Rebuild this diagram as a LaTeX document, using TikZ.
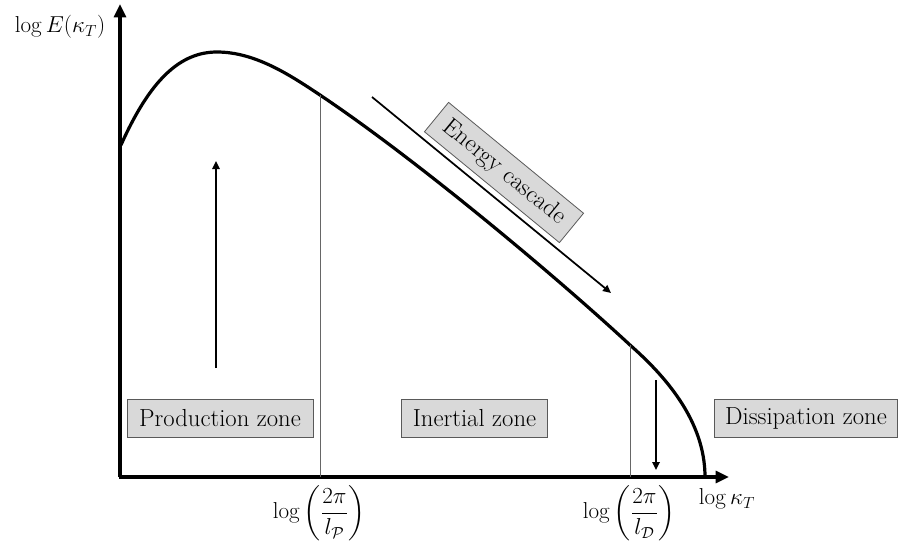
\documentclass[tikz,border=0pt]{standalone}
\usepackage{amsmath}
\usetikzlibrary{arrows.meta}
\begin{document}
\begin{tikzpicture}[x=0.75pt,y=-0.75pt,
  axisline/.style={line width=2.3pt,-{Triangle[length=10pt,width=9pt]}},
  thinline/.style={line width=0.6pt,draw=black!60},
  smallarrow/.style={line width=1.5pt,-{Triangle[length=6pt,width=5.5pt]}},
  zonebox/.style={draw=black!65,line width=0.6pt,fill=black!15,minimum height=28.5pt,inner sep=0pt,font=\fontsize{18.5}{21}\selectfont},
  lbl/.style={inner sep=0pt,font=\fontsize{18}{21}\selectfont}]
\useasboundingbox (0,0) rectangle (898,546);
% axes
\coordinate (O) at (120,477);
\coordinate (ytop) at (120,4);
\coordinate (xend) at (729,477);
\draw[axisline] (O) -- (ytop);
\draw[axisline] (118.9,477) -- (xend);
% curve
\coordinate (c0) at (121,145);
\coordinate (c1) at (217,52);
\coordinate (c2) at (320,95);
\coordinate (c3) at (630,345);
\coordinate (c4) at (705,477);
\draw[line width=2.4pt,line join=round]
  (c0) .. controls (150,80) and (180,52) .. (c1)
       .. controls (255,52) and (290,75) .. (c2)
       .. controls (420,162) and (560,280) .. (c3)
       .. controls (664,375) and (705,420) .. (c4);
% thin verticals
\coordinate (p1b) at (320,477);
\coordinate (p2b) at (630,477);
\draw[thinline] (c2) -- (p1b);
\draw[thinline] (c3) -- (p2b);
% arrows
\coordinate (ua) at (216,368);
\coordinate (ub) at (216,161);
\draw[smallarrow] (ua) -- (ub);
\coordinate (da) at (656,380);
\coordinate (db) at (656,470);
\draw[smallarrow] (da) -- (db);
\coordinate (ca) at (372,97);
\coordinate (cb) at (611,293);
\draw[smallarrow,line width=1.3pt] (ca) -- (cb);
% boxes
\node[zonebox,minimum width=139.5pt] (prod) at (220,418) {Production zone};
\node[zonebox,minimum width=110pt] (inert) at (474.5,418) {Inertial zone};
\node[zonebox,minimum width=137pt] (diss) at (806,418) {Dissipation zone};
\node[zonebox,minimum width=131pt,rotate=-39.4] (casc) at (504,172.5) {Energy cascade};
% labels
\node[lbl] (ylab) at (60,27) {$\log E(\kappa_T)$};
\node[lbl] (xlab) at (727,499) {$\log \kappa_T$};
\node[lbl] (lp) at (319,513) {$\log\left(\dfrac{2\pi}{l_{\mathcal{P}}}\right)$};
\node[lbl] (ld) at (629,513) {$\log\left(\dfrac{2\pi}{l_{\mathcal{D}}}\right)$};
\end{tikzpicture}
\end{document}
